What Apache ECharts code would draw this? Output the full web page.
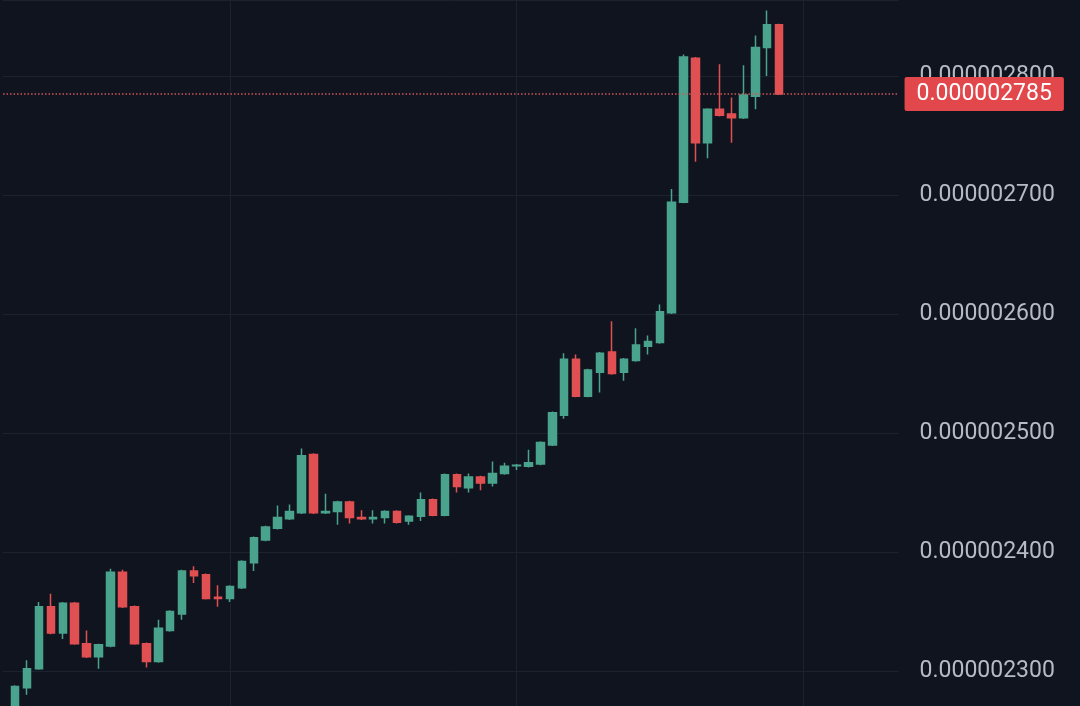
<!DOCTYPE html>
<html>
<head>
<meta charset="utf-8">
<style>
  html, body { margin: 0; padding: 0; background: #10141e; }
  #chart { width: 1080px; height: 706px; }
</style>
<script src="https://cdn.jsdelivr.net/npm/echarts@6/dist/echarts.min.js"></script>
</head>
<body>
<div id="chart"></div>
<script>
// prices are in units of 1e-9 (2785 -> 0.000002785)
// each candle: [open, close, low, high]
var candles = [
    [2266, 2287, 2262, 2288],
    [2286, 2302, 2280, 2309],
    [2302, 2354, 2301, 2358],
    [2354, 2332, 2331, 2365],
    [2332, 2357, 2327, 2358],
    [2357, 2323, 2322, 2358],
    [2323, 2312, 2311, 2334],
    [2312, 2322, 2302, 2323],
    [2321, 2383, 2320, 2386],
    [2383, 2354, 2353, 2385],
    [2354, 2323, 2322, 2355],
    [2323, 2308, 2303, 2324],
    [2308, 2336, 2307, 2343],
    [2334, 2350, 2333, 2351],
    [2348, 2384, 2343, 2385],
    [2384, 2380, 2374, 2388],
    [2381, 2361, 2360, 2382],
    [2362, 2361, 2354, 2372],
    [2361, 2371, 2358, 2372],
    [2370, 2392, 2369, 2393],
    [2391, 2412, 2384, 2413],
    [2410, 2421, 2409, 2422],
    [2420, 2429, 2419, 2439],
    [2428, 2434, 2427, 2440],
    [2433, 2481, 2432, 2487],
    [2482, 2433, 2432, 2483],
    [2433, 2434, 2432, 2449],
    [2434, 2442, 2423, 2443],
    [2442, 2429, 2424, 2443],
    [2429, 2428, 2427, 2435],
    [2428, 2429, 2424, 2435],
    [2429, 2434, 2424, 2435],
    [2434, 2425, 2424, 2435],
    [2426, 2430, 2423, 2431],
    [2430, 2444, 2426, 2450],
    [2444, 2431, 2430, 2445],
    [2431, 2465, 2430, 2466],
    [2465, 2455, 2450, 2466],
    [2454, 2463, 2450, 2466],
    [2463, 2458, 2452, 2464],
    [2458, 2466, 2455, 2476],
    [2466, 2472, 2465, 2475],
    [2472.5, 2473, 2469, 2474],
    [2472, 2475, 2471, 2486],
    [2474, 2492, 2473, 2493],
    [2490, 2517, 2489, 2518],
    [2515, 2562, 2512, 2567],
    [2562, 2531, 2530, 2566],
    [2531, 2553, 2530, 2554],
    [2551, 2567, 2534, 2568],
    [2568, 2550, 2549, 2594],
    [2551, 2562, 2544, 2563],
    [2561, 2574, 2560, 2588],
    [2573, 2577, 2566, 2582],
    [2576, 2602, 2575, 2608],
    [2601, 2694, 2600, 2705],
    [2694, 2816, 2693, 2818],
    [2815, 2744, 2728, 2816],
    [2744, 2772, 2731, 2773],
    [2772, 2767, 2766, 2810],
    [2768, 2765, 2744, 2782],
    [2765, 2784, 2764, 2809],
    [2783, 2824, 2772, 2834],
    [2824, 2843, 2800, 2855],
    [2843, 2785, 2784, 2844]
];
var lastPrice = 2785;
var priceTicks = [2300, 2400, 2500, 2600, 2700, 2800];
// visible price range, bottom and top edge of the picture
var priceMin = 2270.6;
var priceMax = 2863.9;

var upColor = '#4aa38c';
var downColor = '#e04f52';

// one empty slot before the data, empty slots after it up to the price scale
var slots = 76;
var categories = [];
var seriesData = ['-'];
for (var i = 0; i < slots; i++) categories.push(String(i));
for (var j = 0; j < candles.length; j++) seriesData.push(candles[j]);

function fmt(v) {
    return (v / 1e9).toFixed(9);
}

var chart = echarts.init(document.getElementById('chart'));
var option = {
    backgroundColor: '#10141e',
    animation: false,
    grid: {
        left: 3.06,
        right: 1080 - (3.06 + 75 * 11.94),
        top: 0,
        bottom: 0
    },
    xAxis: {
        type: 'category',
        data: categories,
        boundaryGap: false,
        axisLine: { show: false },
        axisTick: { show: false },
        axisLabel: { show: false },
        splitLine: {
            show: true,
            interval: function (index) { return index % 24 === 19; },
            lineStyle: { color: '#1d2230', width: 1 }
        }
    },
    yAxis: {
        type: 'value',
        position: 'right',
        min: priceMin,
        max: priceMax,
        splitNumber: 5,
        axisLine: { show: false },
        axisTick: { show: false },
        axisLabel: {
            margin: 21,
            color: '#b7bbc4',
            fontFamily: 'Roboto',
            fontSize: 23,
            formatter: function (v) {
                return priceTicks.indexOf(Math.round(v)) >= 0 && Math.abs(v - Math.round(v)) < 1e-6 ? fmt(v) : '';
            }
        },
        splitLine: { lineStyle: { color: '#1d2230', width: 1 } }
    },
    series: [{
        type: 'candlestick',
        data: seriesData,
        barWidth: 8,
        itemStyle: {
            color: upColor,
            color0: downColor,
            borderColor: upColor,
            borderColor0: downColor,
            borderWidth: 1.5
        },
        markLine: {
            silent: true,
            symbol: ['none', 'none'],
            data: [{
                yAxis: lastPrice,
                lineStyle: { color: '#d0555c', type: [1.5, 2], width: 1.5 },
                label: {
                    show: true,
                    position: 'end',
                    distance: 6,
                    formatter: function () { return fmt(lastPrice); },
                    color: '#ffffff',
                    fontFamily: 'Roboto',
                    fontSize: 23,
                    lineHeight: 26,
                    backgroundColor: '#e2474c',
                    padding: [4, 12, 4, 12],
                    borderRadius: 2
                }
            }]
        }
    }]
};
chart.setOption(option);
</script>
</body>
</html>
